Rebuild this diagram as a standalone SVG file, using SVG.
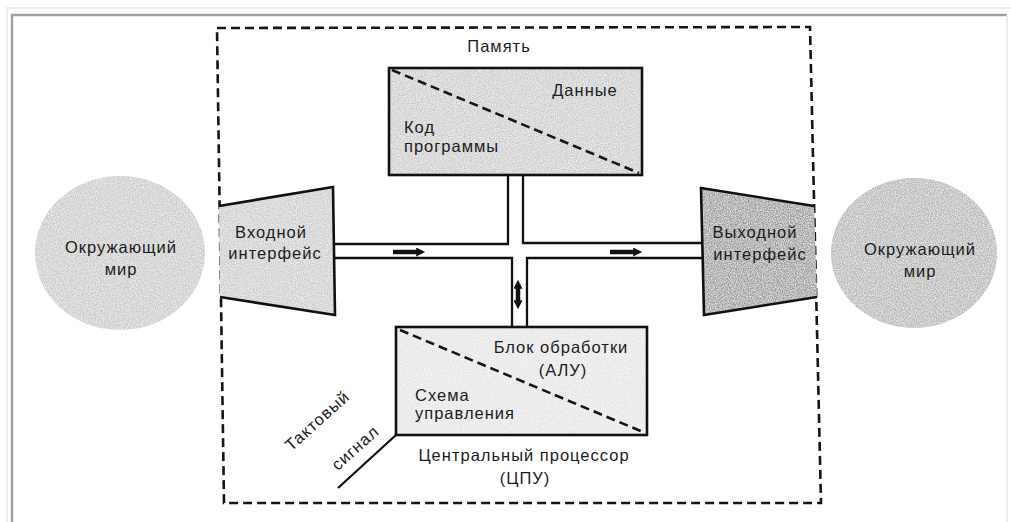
<svg xmlns="http://www.w3.org/2000/svg" width="1011" height="522" viewBox="0 0 1011 522">
<style>
.t{font-family:"Liberation Sans",Arial,sans-serif;font-size:16.5px;letter-spacing:1px;fill:#1c1c1c}
.m{text-anchor:middle}
.box{fill:none;stroke:#111;stroke-width:2.6;stroke-linejoin:miter}
.g{filter:url(#grain)}
.dash{fill:none;stroke:#151515;stroke-width:2.6;stroke-dasharray:9 5}
.bus{fill:none;stroke:#111;stroke-width:2.3}
.arr{stroke:#111;stroke-width:4.5}
</style>
<defs>
<filter id="grain" x="0" y="0" width="100%" height="100%">
<feTurbulence type="fractalNoise" baseFrequency="0.85" numOctaves="2" seed="3" result="n"/>
<feColorMatrix in="n" type="matrix" values="0 0 0 0 1  0 0 0 0 1  0 0 0 0 1  0 0 0 -1.4 0.95" result="w"/>
<feComposite in="w" in2="SourceGraphic" operator="in" result="wm"/>
<feMerge><feMergeNode in="SourceGraphic"/><feMergeNode in="wm"/></feMerge>
</filter>
<marker id="ah" viewBox="0 0 10 10" refX="2" refY="5" markerWidth="2.2" markerHeight="2" orient="auto-start-reverse" markerUnits="strokeWidth">
<path d="M0,0 L10,5 L0,10 Z" fill="#111"/>
</marker>
</defs>
<rect width="1011" height="522" fill="#fff"/>
<g id="frame">
<path d="M7,522 V8 H1011" fill="none" stroke="#ececec" stroke-width="2"/>
<path d="M12,522 V15 H1007" fill="none" stroke="#a2a2a2" stroke-width="2.5"/>
<path d="M1007,15 V522" fill="none" stroke="#ececec" stroke-width="2"/>
</g>
<g id="memory-frame">
<path class="dash" d="M217,28 L810,27 L821,503 L224,503 Z"/>
<text class="t m" x="499" y="52">Память</text>
</g>
<g id="memory">
<rect class="g" x="389" y="68" width="253" height="107" fill="#cdcdcd"/>
<rect class="box" x="389" y="68" width="253" height="107"/>
<line class="dash" x1="392" y1="70" x2="639" y2="173" stroke-dasharray="11 6"/>
<text class="t m" x="585" y="96">Данные</text>
<text class="t" x="404" y="133">Код</text>
<text class="t" x="404" y="152">программы</text>
</g>
<g id="world-left">
<ellipse class="g" cx="120" cy="253" rx="85" ry="77" fill="#cbcbcb"/>
<text class="t m" x="121" y="253">Окружающий</text>
<text class="t m" x="121" y="275">мир</text>
</g>
<g id="world-right">
<ellipse class="g" cx="914" cy="253" rx="83" ry="75" fill="#b8b8b8"/>
<text class="t m" x="920" y="255">Окружающий</text>
<text class="t m" x="920" y="277">мир</text>
</g>
<g id="input-interface">
<polygon class="g" points="219,206 333,187 335,315 220,297" fill="#cecece"/>
<path class="box" d="M219,206 L333,187 L335,315 L220,297"/>
<text class="t m" x="271" y="238">Входной</text>
<text class="t m" x="275" y="259">интерфейс</text>
</g>
<g id="output-interface">
<polygon class="g" points="701,188 814,206 817,297 704,315" fill="#9c9c9c"/>
<path class="box" d="M814,206 L701,188 L704,315 L817,297"/>
<text class="t m" x="755" y="238">Выходной</text>
<text class="t m" x="760" y="260">интерфейс</text>
</g>
<g id="cpu">
<rect class="g" x="396" y="327" width="251" height="108" fill="#e6e6e6"/>
<rect class="box" x="396" y="327" width="251" height="108"/>
<line class="dash" x1="400" y1="330" x2="643" y2="432" stroke-dasharray="11 6"/>
<text class="t m" x="561" y="353">Блок обработки</text>
<text class="t m" x="563" y="376">(АЛУ)</text>
<text class="t" x="415" y="401">Схема</text>
<text class="t" x="415" y="419">управления</text>
<text class="t m" x="524" y="461">Центральный процессор</text>
<text class="t m" x="525" y="484">(ЦПУ)</text>
</g>
<g id="clock">
<line x1="396" y1="435" x2="338" y2="488" stroke="#111" stroke-width="2.3"/>
<text class="t m" transform="translate(321,425) rotate(-42)">Тактовый</text>
<text class="t m" transform="translate(359,452) rotate(-42)">сигнал</text>
</g>
<g id="connectors">
<path class="bus" d="M333,244 H508 V175"/>
<path class="bus" d="M523,175 V243 H701"/>
<path class="bus" d="M335,258 H512 V327"/>
<path class="bus" d="M527,327 V258 H704"/>
<line class="arr" x1="393" y1="252" x2="418" y2="252" marker-end="url(#ah)"/>
<line class="arr" x1="610" y1="252" x2="635" y2="252" marker-end="url(#ah)"/>
<line class="arr" x1="518" y1="287" x2="518" y2="302" marker-start="url(#ah)" marker-end="url(#ah)"/>
</g>
</svg>
